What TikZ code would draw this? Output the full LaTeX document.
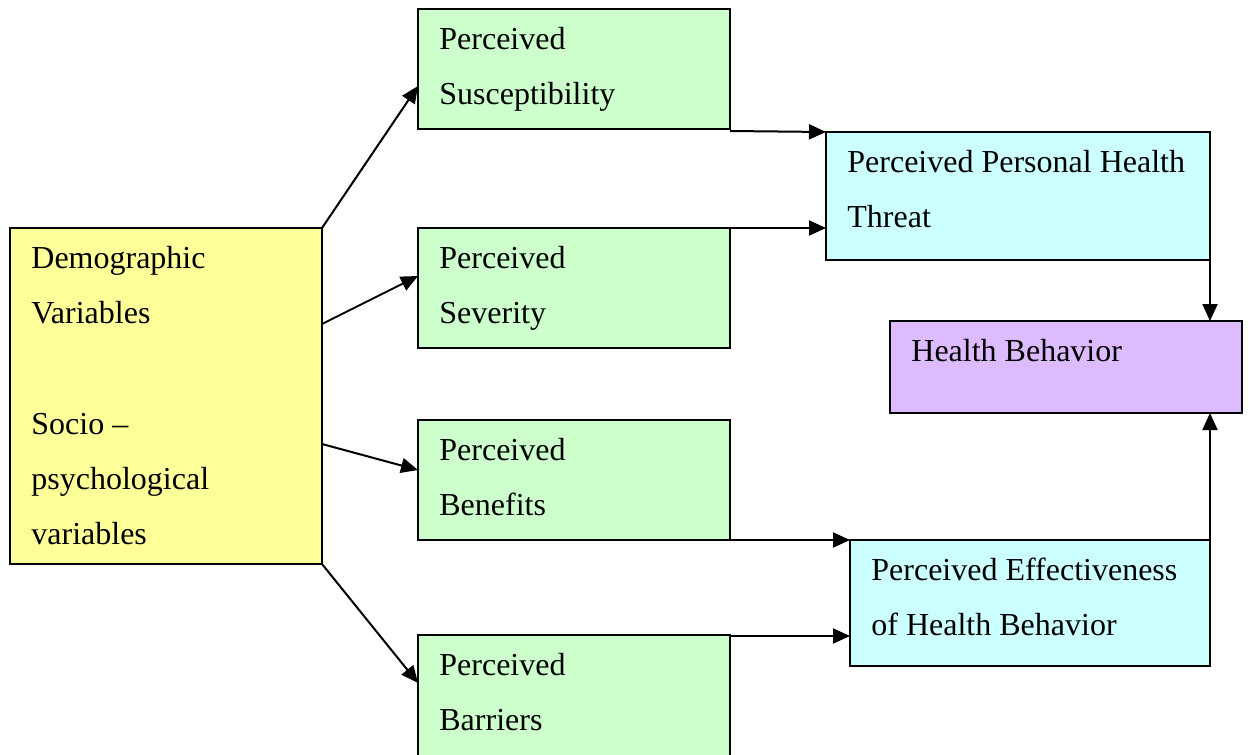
\documentclass[tikz,border=0pt]{standalone}
\usepackage{fontspec}
\setmainfont{Liberation Serif}
\usetikzlibrary{calc,arrows.meta}
\definecolor{cyel}{RGB}{255,255,153}
\definecolor{cgrn}{RGB}{204,255,204}
\definecolor{ccyn}{RGB}{204,255,255}
\definecolor{cpur}{RGB}{221,187,255}
\tikzset{
  box/.style={draw, line width=1pt, anchor=north west, inner sep=0pt, outer sep=0pt},
  txt/.style={anchor=north west, inner sep=0pt, align=left, font=\fontsize{16}{27.6}\selectfont},
  conn/.style={line width=1pt, -{Triangle[length=8.5pt,width=7.5pt]}}
}
\begin{document}
\begin{tikzpicture}[x=0.5pt,y=-0.5pt]
\path[use as bounding box] (0,0) rectangle (1249,755);
\clip (0,0) rectangle (1249,755);
% boxes
\node[box, fill=cyel, minimum width=156pt, minimum height=168pt] (demo) at (10,228) {};
\node[box, fill=cgrn, minimum width=156pt, minimum height=60pt] (susc) at (418,9) {};
\node[box, fill=cgrn, minimum width=156pt, minimum height=60pt] (sev) at (418,228) {};
\node[box, fill=cgrn, minimum width=156pt, minimum height=60pt] (ben) at (418,420) {};
\node[box, fill=cgrn, minimum width=156pt, minimum height=65pt] (bar) at (418,635) {};
\node[box, fill=ccyn, minimum width=192pt, minimum height=64pt] (threat) at (826,132) {};
\node[box, fill=cpur, minimum width=176pt, minimum height=46pt] (hb) at (890,321) {};
\node[box, fill=ccyn, minimum width=180pt, minimum height=63pt] (eff) at (850,540) {};
% texts
\node[txt] (tdemo) at ($(demo.north west)+(21,1.5)$) {\strut Demographic\\\strut Variables\\\strut\\\strut Socio --\\\strut psychological\\\strut variables};
\node[txt] (tsusc) at ($(susc.north west)+(21,1.5)$) {\strut Perceived\\\strut Susceptibility};
\node[txt] (tsev) at ($(sev.north west)+(21,1.5)$) {\strut Perceived\\\strut Severity};
\node[txt] (tben) at ($(ben.north west)+(21,1.5)$) {\strut Perceived\\\strut Benefits};
\node[txt] (tbar) at ($(bar.north west)+(21,1.5)$) {\strut Perceived\\\strut Barriers};
\node[txt] (tthreat) at ($(threat.north west)+(21,1.5)$) {\strut Perceived Personal Health\\\strut Threat};
\node[txt] (thb) at ($(hb.north west)+(21,1.5)$) {\strut Health Behavior};
\node[txt] (teff) at ($(eff.north west)+(21,1.5)$) {\strut Perceived Effectiveness\\\strut of Health Behavior};
% connectors
\draw[conn] (demo.north east) -- ($(susc.north west)+(0,77)$);
\draw[conn] ($(demo.north east)+(0,96)$) -- ($(sev.north west)+(0,48)$);
\draw[conn] ($(demo.north east)+(0,216)$) -- ($(ben.north west)+(0,50)$);
\draw[conn] (demo.south east) -- ($(bar.north west)+(0,48)$);
\draw[conn] ($(susc.south east)+(0,2)$) -- (threat.north west);
\draw[conn] (sev.north east) -- (sev.north east -| threat.west);
\draw[conn] (ben.south east) -- (eff.north west);
\draw[conn] ($(bar.north east)+(0,1)$) -- ($(bar.north east -| eff.west)+(0,1)$);
\draw[conn] (threat.south east) -- (threat.south east |- hb.north);
\draw[conn] (eff.north east) -- (eff.north east |- hb.south);
\end{tikzpicture}
\end{document}
